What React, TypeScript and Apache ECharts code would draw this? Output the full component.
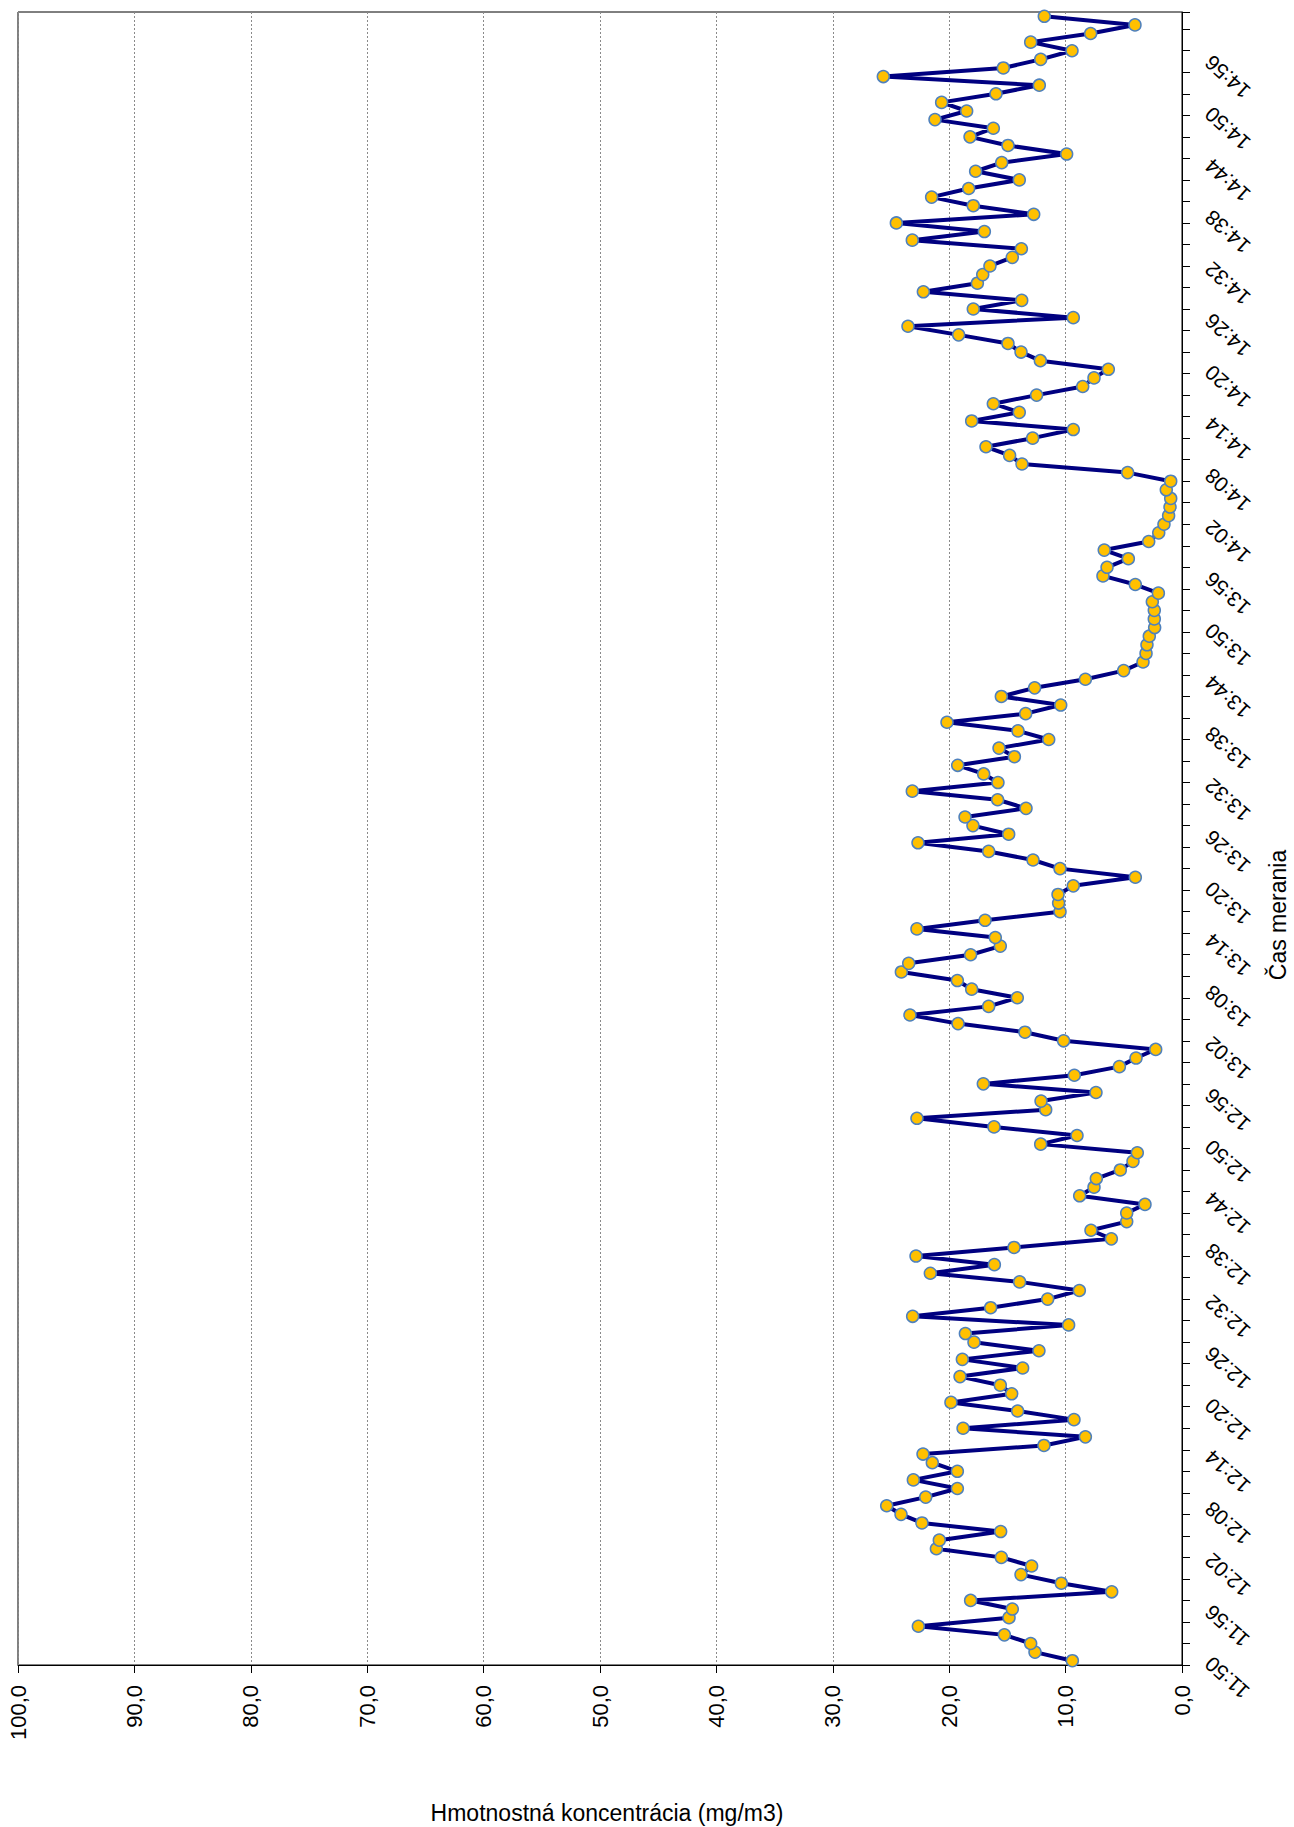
import React, { useEffect, useRef } from "react";
import * as echarts from "echarts";

const FONT = "'Liberation Sans', Arial, Helvetica, sans-serif";

// Measurement start time and number of one-minute samples
const START_HOUR = 11;
const START_MINUTE = 50;
const SAMPLE_COUNT = 192;

function buildTimes(): string[] {
  const out: string[] = [];
  for (let i = 0; i < SAMPLE_COUNT; i++) {
    const t = START_HOUR * 60 + START_MINUTE + i;
    const h = Math.floor(t / 60);
    const m = t % 60;
    out.push(`${h}:${m < 10 ? "0" + m : m}`);
  }
  return out;
}
const times: string[] = buildTimes();

// Hmotnostná koncentrácia (mg/m3), one value per minute
const conc1: number[] = [9.42, 12.63, 13.0, 15.26, 22.65, 14.86, 14.58, 18.16, 6.04, 10.37, 13.83, 12.92, 15.52, 21.1, 20.85, 15.58, 22.34, 24.14, 25.37, 22.02, 19.3, 23.08];
const conc2: number[] = [19.3, 21.45, 22.25, 11.86, 8.3, 18.81, 9.28, 14.12, 19.85, 14.63, 15.61, 19.07, 13.69, 18.87, 12.29, 17.87, 18.61, 9.74, 23.14, 16.44, 11.54, 8.82];
const conc3: number[] = [13.95, 21.62, 16.12, 22.85, 14.43, 6.07, 7.82, 4.75, 4.75, 3.18, 8.79, 7.56, 7.36, 5.3, 4.21, 3.84, 12.14, 9.02, 16.15, 22.77, 11.71];
const conc4: number[] = [12.11, 7.39, 17.07, 9.25, 5.38, 3.95, 2.26, 10.17, 13.49, 19.24, 23.37, 16.61, 14.15, 18.07, 19.3, 24.11, 23.48, 18.16, 15.61, 16.04, 22.77];
const conc5: number[] = [16.92, 10.48, 10.6, 10.65, 9.34, 4.01, 10.48, 12.8, 16.61, 22.68, 14.89, 17.96, 18.64, 13.4, 15.84, 23.17, 15.81, 17.04, 19.27, 14.4, 15.72, 11.45];
const conc6: number[] = [14.09, 20.19, 13.43, 10.42, 15.52, 12.66, 8.3, 5.01, 3.35, 3.09, 3.01, 2.81, 2.35, 2.38, 2.38, 2.55, 2.03, 4.01, 6.79, 6.44, 4.61];
const conc7: number[] = [6.68, 2.86, 2.0, 1.55, 1.15, 1.03, 0.97, 1.35, 0.97, 4.67, 13.75, 14.81, 16.84, 12.83, 9.34, 18.07, 13.98, 16.21, 12.49, 8.53, 7.56, 6.33];
const conc8: number[] = [12.17, 13.83, 14.95, 19.19, 23.54, 9.34, 17.93, 13.77, 22.22, 17.58, 17.12, 16.5, 14.58, 13.8, 23.17, 16.98, 24.54, 12.74, 17.93, 21.51, 18.33];
const conc9: number[] = [13.98, 17.73, 15.49, 9.91, 14.95, 18.21, 16.21, 21.22, 18.5, 20.65, 15.98, 12.26, 25.66, 15.35, 12.14, 9.45, 13.0, 7.85, 4.04, 11.83];
const values: number[] = [...conc1, ...conc2, ...conc3, ...conc4, ...conc5, ...conc6, ...conc7, ...conc8, ...conc9];

const VALUE_MIN = 0;
const VALUE_MAX = 100;
const VALUE_STEP = 10;

const valueTitle = "Hmotnostná koncentrácia (mg/m3)";
const timeTitle = "Čas merania";

export default function App() {
  const ref = useRef<HTMLDivElement>(null);

  useEffect(() => {
    if (!ref.current) return;
    const chart = echarts.init(ref.current, null, { renderer: "svg" });
    const option: any = {
      animation: false,
      backgroundColor: "#ffffff",
      textStyle: { fontFamily: FONT },
      grid: {
        left: 18,
        right: 112,
        top: 12,
        bottom: 162,
        show: true,
        borderColor: "#000",
        borderWidth: 1,
        containLabel: false,
      },
      xAxis: {
        type: "value",
        inverse: true,
        min: VALUE_MIN,
        max: VALUE_MAX,
        interval: VALUE_STEP,
        position: "bottom",
        axisLine: { show: true, lineStyle: { color: "#000", width: 1 } },
        axisTick: { show: true, length: 8, lineStyle: { color: "#000" } },
        axisLabel: {
          rotate: 90,
          margin: 20,
          fontSize: 22,
          color: "#000",
          fontFamily: FONT,
          formatter: (v: number) => v.toFixed(1).replace(".", ","),
        },
        splitLine: { show: true, lineStyle: { color: "#8a8a8a", type: [2, 2], width: 1 } },
      },
      yAxis: [
        {
          type: "category",
          data: times,
          position: "right",
          boundaryGap: true,
          axisLine: { show: true, lineStyle: { color: "#000", width: 1 } },
          axisTick: { show: false },
          axisLabel: {
            interval: 5,
            rotate: 138,
            margin: 26,
            fontSize: 21,
            color: "#000",
            fontFamily: FONT,
          },
          splitLine: { show: false },
        },
        {
          type: "value",
          min: 0,
          max: SAMPLE_COUNT,
          interval: 2.5,
          position: "right",
          offset: 0,
          axisLine: { show: false },
          axisTick: { show: true, length: 8, lineStyle: { color: "#000" } },
          axisLabel: { show: false },
          splitLine: { show: false },
        },
      ],
      series: [
        {
          type: "line",
          xAxisIndex: 0,
          yAxisIndex: 0,
          data: values,
          symbol: "circle",
          symbolSize: 12,
          showAllSymbol: true,
          lineStyle: { color: "#000080", width: 4 },
          itemStyle: { color: "#FFC000", borderColor: "#4F81BD", borderWidth: 1.5 },
          emphasis: { disabled: true },
        },
      ],
      graphic: [
        {
          type: "text",
          x: 607,
          y: 1813,
          style: {
            text: valueTitle,
            fontSize: 23,
            fontFamily: FONT,
            fill: "#000",
            align: "center",
            verticalAlign: "middle",
          },
        },
        {
          type: "text",
          x: 1278,
          y: 915,
          rotation: Math.PI / 2,
          style: {
            text: timeTitle,
            fontSize: 23,
            fontFamily: FONT,
            fill: "#000",
            align: "center",
            verticalAlign: "middle",
          },
        },
      ],
    };
    chart.setOption(option);
    return () => {
      chart.dispose();
    };
  }, []);

  return (
    <div
      ref={ref}
      style={{ position: "absolute", left: 0, top: 0, width: 1294, height: 1827, background: "#fff" }}
    />
  );
}
